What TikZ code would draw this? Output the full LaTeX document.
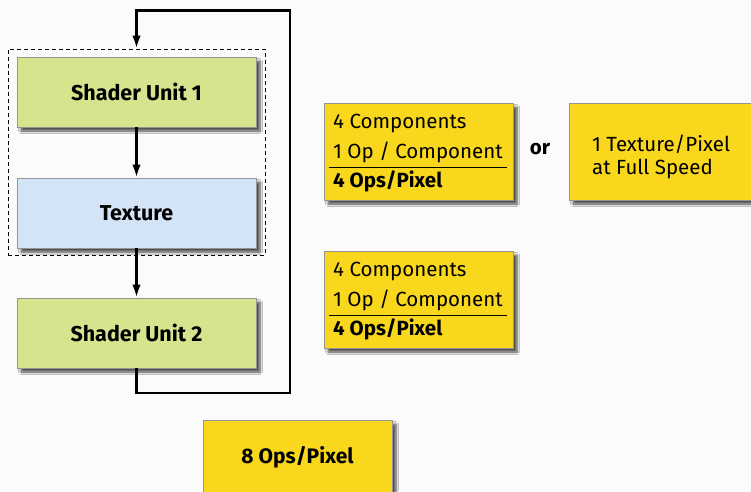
\documentclass[tikz,border=0pt]{standalone}
\usepackage{fontspec}
\setmainfont{Fira Sans}
\usetikzlibrary{arrows.meta,shadows.blur}
\definecolor{bg}{HTML}{FBFBFB}
\definecolor{sgreen}{HTML}{D6E48E}
\definecolor{tblue}{HTML}{D3E4F7}
\definecolor{ylw}{HTML}{F8D71C}
\definecolor{bord}{HTML}{959595}
\tikzset{
  boxbase/.style={rectangle, draw=bord, line width=0.8pt, inner sep=0pt,
    blur shadow={shadow xshift=4pt, shadow yshift=-4pt, shadow blur steps=6, shadow blur radius=2.5pt, shadow opacity=70}},
  unitbox/.style={boxbase, minimum width=239pt, minimum height=70pt, font=\fontsize{21.5}{22}\selectfont\bfseries},
  ybox/.style={boxbase, fill=ylw, minimum width=189pt, minimum height=97pt},
  txt/.style={anchor=base west, inner sep=0pt, font=\fontsize{20.5}{22}\selectfont},
  btxt/.style={txt, font=\fontsize{20.5}{22}\selectfont\bfseries},
  flow/.style={line width=2.4pt, -{Latex[length=13pt,width=8.5pt]}},
}
\begin{document}
\begin{tikzpicture}[x=1pt,y=-1pt]
\fill[bg] (0,0) rectangle (751,491);
\useasboundingbox (0,0) rectangle (751,491);
% left column
\node[rectangle, draw, dash pattern=on 4pt off 3pt, line width=0.8pt, minimum width=257pt, minimum height=206pt, inner sep=0pt] (grp) at (136.5,152) {};
\node[unitbox, fill=sgreen] (su1) at (136.5,92) {Shader Unit 1};
\node[unitbox, fill=tblue] (tex) at (136.5,213) {Texture};
\node[unitbox, fill=sgreen] (su2) at (136.5,333) {Shader Unit 2};
\coordinate (lb) at (290,393);
\coordinate (lt) at (290,10.5);
\draw[flow] (su1.south) -- (tex.north);
\draw[flow] (tex.south) -- (su2.north);
\draw[flow] (su2.south) |- (lb) -- (lt) -| (grp.north);
% yellow boxes
\node[ybox] (b1) at (418.5,151.5) {};
\node[txt] (b1a) at (333,128) {4 Components};
\node[txt] (b1b) at (333,158) {1 Op / Component};
\node[btxt] (b1c) at (333,187) {4 Ops/Pixel};
\coordinate (r1a) at (329,167);
\coordinate (r1b) at (507,167);
\draw[line width=1pt] (r1a) -- (r1b);
\node[font=\fontsize{20.5}{22}\selectfont\bfseries, inner sep=0pt] (or) at (540,149) {or};
\node[boxbase, fill=ylw, minimum width=210pt, minimum height=97pt] (b2) at (674,151.5) {};
\node[txt] (b2a) at (592,151) {1 Texture/Pixel};
\node[txt] (b2b) at (592,174) {at Full Speed};
\node[ybox] (b3) at (418.5,299.5) {};
\node[txt] (b3a) at (333,276) {4 Components};
\node[txt] (b3b) at (333,306) {1 Op / Component};
\node[btxt] (b3c) at (333,335) {4 Ops/Pixel};
\coordinate (r3a) at (329,315);
\coordinate (r3b) at (507,315);
\draw[line width=1pt] (r3a) -- (r3b);
\node[ybox, minimum height=82pt] (b4) at (297.5,461) {};
\node[font=\fontsize{21}{22}\selectfont\bfseries, inner sep=0pt] (b4t) at (297.5,457) {8 Ops/Pixel};
\end{tikzpicture}
\end{document}
